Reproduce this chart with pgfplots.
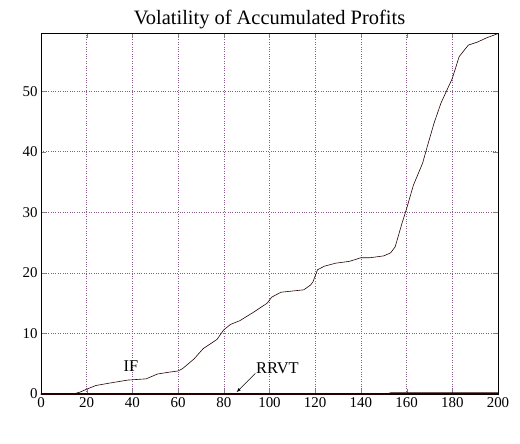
\documentclass[border=0pt]{standalone}
\usepackage{fontspec}
\setmainfont{Liberation Serif}
\usepackage{pgfplots}
\pgfplotsset{compat=1.18}
\begin{document}
\begin{tikzpicture}
\begin{axis}[
  scale only axis,
  width=457bp, height=361bp,
  xmin=0, xmax=200, ymin=0, ymax=59.6,
  xtick={0,20,...,200}, ytick={0,10,...,50},
  grid=major,
  major grid style={dash pattern=on 0.8pt off 1.6pt, color=violet!45!gray!90, line width=0.45pt},
  tick align=inside,
  xtick pos=both, ytick pos=both,
  major tick length=5bp,
  axis line style={line width=0.6pt},
  /pgf/number format/assume math mode=true,
  tick label style={font=\fontsize{15}{17}\selectfont},
  xticklabel style={yshift=0bp},
  title={Volatility of Accumulated Profits},
  title style={font=\fontsize{20.5}{23}\selectfont, yshift=-5bp},
  clip=false,
  axis on top=false,
]
\addplot[line width=0.6pt, color=black!85!red] coordinates {
(0,0) (14,0) (17,0.3) (20,0.8) (24,1.4) (30,1.8) (38,2.3) (46,2.5) (51,3.3)
(56,3.6) (60,3.8) (62,4.2) (67,5.8) (71,7.5) (77,9.0) (80,10.6) (83,11.5)
(87,12.1) (93,13.5) (99,15.0) (101,16.0) (105,16.8) (110,17.0) (115,17.2)
(118,18.0) (119,18.5) (121,20.5) (124,21.1) (129,21.6) (135,21.9) (140,22.5)
(144,22.5) (150,22.8) (153,23.3) (155,24.3) (158,28.2) (160,30.6) (163,34.5)
(167,38.1) (169,40.8) (172,44.7) (175,48.0) (180,52.1) (183,55.7) (187,57.6)
(191,58.1) (195,58.8) (200,59.5)};
\addplot[line width=1.8pt, color=black!85!red] coordinates {
(0,0) (152,0) (153,0.1) (200,0.1)};
\node[font=\fontsize{16.5}{19}\selectfont] at (axis cs:39.4,4.6) {IF};
\node[font=\fontsize{16.5}{19}\selectfont] at (axis cs:103.5,4.3) {RRVT};
\draw[-latex, line width=0.5pt] (axis cs:93.8,3.4) -- (axis cs:85.6,0.3);
\end{axis}
\pgfresetboundingbox
\useasboundingbox (current axis.south west) ++(-41bp,-50bp) rectangle ++(520bp,444bp);
\end{tikzpicture}
\end{document}
